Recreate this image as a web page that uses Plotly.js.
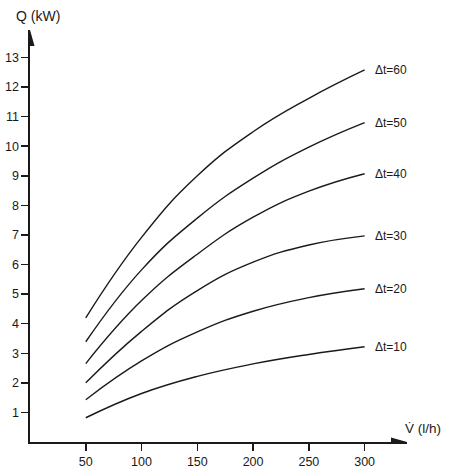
<!DOCTYPE html>
<html>
<head>
<meta charset="utf-8">
<script src="https://cdn.plot.ly/plotly-3.0.1.min.js"></script>
<style>html,body{margin:0;padding:0;background:#fff;}#chart{width:449px;height:468px;}</style>
</head>
<body>
<div id="chart"></div>
<script>
// Flow rate V̇ (l/h)
var flow = [50, 100, 150, 200, 250, 300];
// Heat output Q (kW) per temperature difference Δt
var dt10 = [0.82, 1.64, 2.22, 2.64, 2.96, 3.22];
var dt20 = [1.43, 2.74, 3.72, 4.42, 4.88, 5.18];
var dt30 = [2.00, 3.74, 5.12, 6.08, 6.66, 6.97];
var dt40 = [2.65, 4.78, 6.35, 7.60, 8.48, 9.07];
var dt50 = [3.39, 5.82, 7.57, 8.92, 9.97, 10.80];
var dt60 = [4.20, 6.92, 9.00, 10.49, 11.62, 12.58];
var seriesLabels = ['\u0394t=10', '\u0394t=20', '\u0394t=30', '\u0394t=40', '\u0394t=50', '\u0394t=60'];
var series = [dt10, dt20, dt30, dt40, dt50, dt60];
var yTicks = [1,2,3,4,5,6,7,8,9,10,11,12,13];
var xTicks = [50,100,150,200,250,300];

var font = 'Liberation Sans, Arial, sans-serif';
var traces = series.map(function(s, i){
  return {x: flow, y: s, mode: 'lines', type: 'scatter', name: seriesLabels[i],
    line: {color: '#1a1a1a', width: 1.4, shape: 'spline', smoothing: 1.3}, hoverinfo: 'skip'};
});

var annotations = series.map(function(s, i){
  return {x: flow[flow.length-1], y: s[s.length-1], xref: 'x', yref: 'y',
    text: seriesLabels[i], showarrow: false, xanchor: 'left', yanchor: 'middle',
    xshift: 8, font: {family: font, size: 12, color: '#1a1a1a'}};
});
annotations.push({xref: 'paper', yref: 'paper', x: 0, y: 1.0, xshift: 8, yshift: 14, xanchor: 'center', yanchor: 'middle',
  text: 'Q (kW)', showarrow: false, font: {family: font, size: 14, color: '#1a1a1a'}});
annotations.push({xref: 'paper', yref: 'paper', x: 1.0, y: 0, xshift: -4, yshift: 14, xanchor: 'left', yanchor: 'middle',
  text: 'V\u0307 (l/h)', showarrow: false, font: {family: font, size: 13.5, color: '#1a1a1a'}});

var layout = {
  width: 449, height: 468,
  margin: {l: 30, r: 42, t: 30, b: 26, pad: 0},
  paper_bgcolor: '#fff', plot_bgcolor: '#fff',
  showlegend: false,
  xaxis: {range: [0, 338], tickvals: xTicks, ticktext: xTicks.map(String), ticks: 'outside', ticklen: 7,
    tickwidth: 1.5, tickcolor: '#1a1a1a', showline: true, linecolor: '#1a1a1a', linewidth: 1.6,
    showgrid: false, zeroline: false, tickfont: {family: font, size: 12.5, color: '#1a1a1a'}, fixedrange: true},
  yaxis: {range: [0, 13.93], tickvals: yTicks, ticktext: yTicks.map(String), ticks: 'outside', ticklen: 7,
    tickwidth: 1.5, tickcolor: '#1a1a1a', showline: true, linecolor: '#1a1a1a', linewidth: 1.6,
    showgrid: false, zeroline: false, tickfont: {family: font, size: 12.5, color: '#1a1a1a'}, fixedrange: true},
  annotations: annotations,
  shapes: [
    {type: 'path', xref: 'x', yref: 'y', xsizemode: 'pixel', ysizemode: 'pixel', xanchor: 338, yanchor: 0,
     path: 'M-16,-4.5 L0,0 L-16,4.5 Z', fillcolor: '#1a1a1a', line: {width: 0}},
    {type: 'path', xref: 'x', yref: 'y', xsizemode: 'pixel', ysizemode: 'pixel', xanchor: 0, yanchor: 13.93,
     path: 'M-4.5,-16 L0,0 L4.5,-16 Z', fillcolor: '#1a1a1a', line: {width: 0}}
  ]
};

Plotly.newPlot('chart', traces, layout, {staticPlot: true, displayModeBar: false});
</script>
</body>
</html>
